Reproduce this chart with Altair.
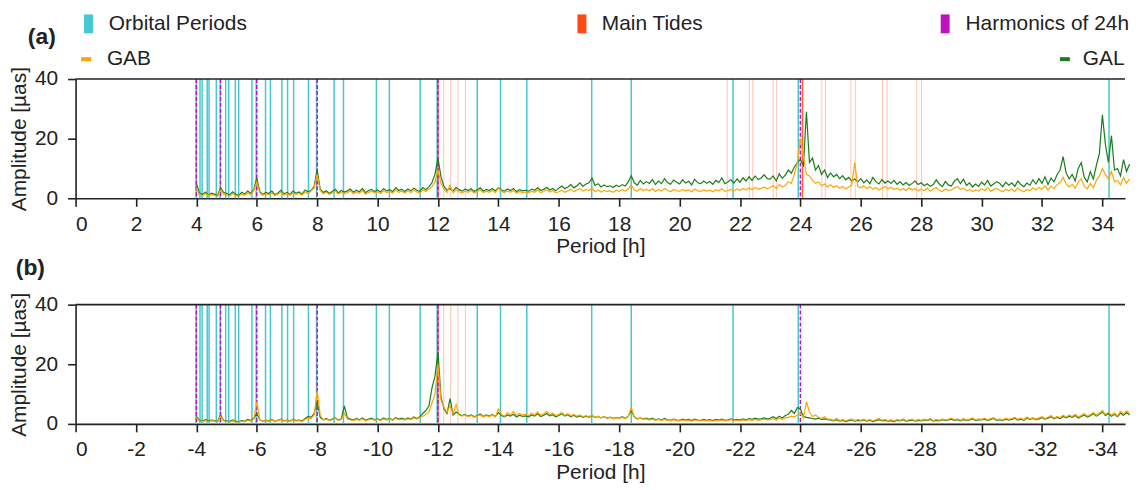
import altair as alt
import pandas as pd

FONT = "Liberation Sans"
TXT = "#222222"
START = 4.0
STEP = 0.1
XMAX = 34.75
XTICKS = list(range(0, 35, 2))

# ---------------- spectra (amplitude in µas, periods 4.0 ... 34.9 h, step 0.1 h) -------------
GAL_A = [
    5.0, 1.8, 1.3, 2.1, 1.0, 1.7, 1.4, 0.9, 3.5, 2.0,
    1.6, 1.1, 2.2, 1.3, 0.9, 2.0, 1.4, 2.4, 1.7, 2.9,
    6.8, 2.2, 1.3, 2.0, 1.6, 2.4, 1.2, 1.8, 2.7, 1.5,
    2.0, 1.3, 2.4, 1.7, 2.1, 1.4, 2.8, 2.2, 2.6, 4.0,
    9.5, 3.1, 1.9, 2.5, 1.6, 2.3, 3.0, 1.8, 2.6, 2.1,
    2.5, 3.1, 2.0, 2.7, 2.2, 3.3, 1.9, 2.6, 3.0, 2.3,
    2.8, 2.1, 3.3, 2.5, 2.9, 2.2, 3.6, 2.6, 3.0, 2.3,
    3.1, 2.5, 3.4, 2.7, 2.3, 3.6, 2.9, 3.8, 5.2, 8.0,
    13.5, 7.2, 3.9, 2.7, 3.3, 2.5, 3.6, 2.9, 2.4, 3.1,
    2.6, 3.2, 2.3, 2.9, 3.5, 2.4, 3.0, 2.6, 3.3, 2.5,
    3.6, 2.8, 2.4, 3.1, 2.6, 3.3, 2.2, 2.9, 2.5, 2.7,
    2.4, 3.1, 2.7, 3.5, 2.6, 3.0, 3.7, 2.8, 3.3, 2.5,
    3.4, 4.1, 3.2, 3.8, 4.6, 3.5, 4.2, 5.2, 4.0, 4.8,
    5.2, 6.8, 4.3, 4.9, 3.8, 4.5, 3.9, 4.2, 3.6, 4.4,
    3.9, 4.6, 4.1, 5.5, 7.6, 5.2, 4.4, 6.0, 4.8, 5.6,
    5.0, 6.3, 4.6, 5.8, 4.9, 6.6, 5.3, 4.7, 6.1, 5.4,
    4.8, 6.2, 5.1, 5.7, 4.5, 6.4, 5.2, 4.9, 5.8, 5.0,
    5.6, 4.7, 6.0, 5.3, 6.8, 4.9, 5.5, 6.2, 5.1, 6.5,
    5.4, 6.9, 5.8, 7.2, 6.0, 7.5, 6.3, 6.8, 7.9, 6.6,
    6.4, 7.5, 5.8, 8.2, 6.7, 7.8, 9.5, 8.4, 10.5, 12.0,
    13.0, 11.0, 29.0, 12.0, 13.5, 9.5, 11.0, 8.0, 9.5, 7.0,
    8.5, 7.2, 8.0, 6.6, 7.6, 6.2, 7.0, 5.8, 6.5, 5.5,
    6.6, 5.2, 6.2, 4.9, 7.0, 5.6, 4.8, 6.3, 5.1, 5.8,
    5.0, 6.0, 4.7, 5.6, 4.5, 5.3, 4.3, 5.0, 5.8, 4.6,
    5.2, 4.2, 4.9, 4.0, 4.6, 6.2, 4.8, 3.9, 5.6, 4.5,
    4.1, 5.8, 6.6, 4.9, 6.4, 4.3, 5.2, 3.8, 4.8, 4.0,
    5.4, 4.5, 6.0, 4.1, 4.8, 5.6, 5.0, 3.9, 5.4, 4.4,
    5.2, 4.0, 5.8, 4.6, 3.9, 5.1, 4.4, 6.2, 4.8, 6.6,
    5.0, 7.2, 4.6, 6.8, 5.5, 8.0, 9.5, 14.0, 8.5, 6.5,
    8.0, 5.8, 10.0, 12.0, 7.0, 5.5, 9.0, 6.5, 11.0, 15.0,
    28.0, 18.0, 12.0, 21.0, 9.5, 10.0, 7.5, 13.0, 9.0, 11.5,
]
GAB_A = [
    3.5, 1.2, 0.8, 1.5, 0.9, 1.3, 1.0, 0.7, 2.8, 1.4,
    1.1, 0.8, 1.6, 0.9, 0.7, 1.4, 1.0, 1.8, 1.2, 2.6,
    5.5, 1.8, 1.0, 1.5, 1.2, 1.8, 0.9, 1.4, 2.0, 1.1,
    1.5, 1.0, 1.8, 1.3, 1.6, 1.1, 2.1, 1.6, 2.4, 3.5,
    8.0, 2.6, 1.5, 2.0, 1.3, 1.8, 2.4, 1.4, 2.0, 1.6,
    1.9, 2.5, 1.5, 2.1, 1.7, 2.6, 1.4, 2.0, 2.4, 1.8,
    2.2, 1.6, 2.6, 1.9, 2.3, 1.7, 2.8, 2.0, 2.4, 1.8,
    2.5, 1.9, 2.7, 2.1, 1.8, 2.9, 2.3, 3.0, 3.8, 5.5,
    9.5, 5.0, 3.0, 2.0, 4.5, 1.9, 2.8, 2.2, 1.8, 2.4,
    2.0, 2.6, 1.8, 2.3, 2.8, 1.9, 2.4, 2.0, 2.7, 1.9,
    3.5, 2.4, 1.9, 2.5, 2.0, 2.7, 1.7, 2.3, 1.9, 2.1,
    1.8, 2.4, 2.0, 2.8, 1.9, 2.3, 2.9, 2.1, 2.6, 1.8,
    2.2, 2.7, 2.0, 2.5, 3.0, 2.2, 2.8, 3.2, 2.4, 2.9,
    2.6, 3.4, 2.2, 2.8, 2.1, 2.6, 2.3, 2.5, 2.0, 2.7,
    2.3, 2.9, 2.4, 3.1, 4.5, 2.8, 2.4, 3.3, 2.6, 3.0,
    2.5, 3.2, 2.3, 2.9, 2.4, 3.3, 2.7, 2.2, 3.0, 2.6,
    2.3, 3.0, 2.5, 2.8, 2.1, 3.1, 2.5, 2.3, 2.8, 2.4,
    2.7, 2.2, 2.9, 2.5, 3.2, 2.3, 2.6, 3.0, 2.4, 3.1,
    2.6, 3.3, 2.8, 3.5, 2.9, 3.6, 3.1, 3.3, 3.8, 3.2,
    3.6, 4.2, 3.3, 4.6, 3.8, 4.4, 5.5, 5.0, 8.0, 12.0,
    20.0, 14.0, 8.0, 7.5, 6.0, 5.0, 5.5, 4.2, 4.8, 3.8,
    4.5, 3.6, 4.2, 3.4, 4.0, 3.2, 3.8, 4.4, 12.0, 4.0,
    3.5, 4.2, 3.3, 3.9, 3.0, 3.6, 2.8, 3.4, 4.0, 3.1,
    3.7, 2.9, 3.4, 2.7, 3.2, 2.6, 3.5, 2.8, 3.3, 2.5,
    3.1, 2.6, 3.4, 2.4, 3.0, 3.6, 2.7, 2.3, 3.2, 2.6,
    2.8, 3.5, 3.9, 2.9, 3.4, 2.5, 3.0, 2.3, 2.8, 2.4,
    3.2, 2.6, 3.6, 2.4, 2.9, 3.3, 2.7, 2.2, 3.0, 2.5,
    3.1, 2.3, 3.4, 2.7, 2.2, 3.0, 2.5, 3.5, 2.8, 3.6,
    3.0, 4.2, 2.8, 4.0, 3.2, 4.6, 5.2, 7.0, 4.8, 3.8,
    4.6, 3.4, 5.5, 6.5, 4.0, 3.2, 5.0, 3.6, 6.0, 7.5,
    10.0, 8.0, 6.5, 9.0, 5.5, 6.0, 4.5, 7.0, 5.0, 6.5,
]
GAL_B = [
    2.5, 1.2, 0.9, 1.4, 1.0, 1.3, 1.1, 0.8, 3.0, 1.2,
    1.0, 0.8, 1.3, 0.9, 0.7, 1.2, 0.9, 1.5, 1.1, 1.8,
    3.5, 1.4, 0.9, 1.2, 1.0, 1.5, 0.8, 1.2, 1.6, 1.0,
    1.3, 0.9, 1.5, 1.1, 1.3, 1.0, 1.8, 2.5, 2.2, 3.5,
    7.5, 2.2, 1.4, 1.8, 1.2, 1.6, 2.0, 1.3, 1.7, 6.0,
    2.0, 1.6, 1.3, 1.8, 1.4, 2.0, 1.2, 1.6, 1.9, 1.4,
    1.7, 1.3, 2.0, 1.5, 1.8, 1.4, 2.1, 1.6, 1.9, 1.5,
    2.0, 1.6, 2.3, 1.8, 2.4, 3.5, 4.5, 6.0, 12.0, 16.0,
    24.0, 9.0, 5.0, 3.5, 8.5, 3.0, 4.0, 3.2, 2.8, 3.2,
    2.6, 3.0, 2.4, 2.8, 3.3, 2.5, 3.0, 2.6, 3.2, 2.5,
    3.8, 2.8, 2.4, 3.0, 2.6, 3.2, 2.3, 2.9, 2.5, 2.7,
    2.4, 3.0, 2.6, 3.4, 2.5, 2.9, 3.5, 2.7, 3.1, 2.4,
    2.8, 3.4, 2.6, 3.1, 2.4, 2.9, 2.3, 2.7, 2.2, 2.6,
    2.2, 2.8, 2.1, 2.5, 2.0, 2.4, 1.9, 2.3, 1.8, 2.2,
    1.9, 2.4, 1.8, 2.6, 4.5, 2.3, 1.7, 2.0, 1.6, 1.9,
    1.5, 1.9, 1.4, 1.7, 1.3, 1.8, 1.4, 1.2, 1.6, 1.3,
    1.2, 1.6, 1.3, 1.5, 1.1, 1.6, 1.3, 1.2, 1.5, 1.2,
    1.4, 1.1, 1.5, 1.3, 1.6, 1.2, 1.4, 1.7, 1.3, 1.5,
    1.3, 1.7, 1.4, 1.8, 1.5, 1.9, 1.6, 1.7, 2.0, 1.7,
    1.9, 2.4, 1.8, 2.6, 2.0, 2.8, 3.2, 4.5, 3.5, 5.5,
    5.0, 2.5, 2.2, 2.0, 1.8, 1.6, 1.9, 1.5, 1.7, 1.4,
    1.3, 1.0, 1.4, 0.9, 1.2, 0.8, 1.1, 1.3, 0.9, 1.2,
    1.0, 1.3, 0.9, 1.2, 0.8, 1.1, 1.4, 1.0, 1.2, 0.9,
    1.1, 0.8, 1.2, 1.0, 1.4, 0.9, 1.1, 1.3, 0.9, 1.2,
    1.0, 1.3, 1.1, 1.5, 0.9, 1.2, 1.0, 1.4, 1.1, 1.3,
    1.6, 1.2, 1.4, 1.0, 1.5, 1.1, 1.3, 1.7, 1.2, 1.4,
    1.3, 1.6, 1.1, 1.5, 1.8, 1.2, 1.4, 1.1, 1.6, 1.3,
    1.5, 1.9, 1.3, 1.6, 1.2, 2.0, 1.5, 1.8, 1.4, 1.7,
    2.1, 1.6, 1.9, 2.4, 1.7, 2.2, 1.8, 2.5, 2.0, 2.6,
    2.2, 2.8, 2.0, 2.5, 3.0, 2.3, 2.7, 3.4, 2.6, 3.2,
    4.0, 2.8, 3.5, 2.6, 3.2, 2.4, 3.6, 2.9, 3.8, 3.0,
]
GAB_B = [
    2.0, 0.9, 0.7, 1.1, 0.8, 1.0, 0.9, 0.6, 2.5, 1.0,
    0.8, 0.6, 1.0, 0.7, 0.6, 0.9, 0.7, 1.2, 0.9, 1.6,
    7.5, 1.5, 0.8, 1.1, 0.9, 1.3, 0.7, 1.1, 1.4, 0.9,
    1.1, 0.8, 1.3, 0.9, 1.1, 0.8, 1.5, 1.9, 1.8, 3.0,
    11.0, 3.0, 1.4, 1.6, 1.1, 1.4, 1.8, 1.2, 1.5, 3.5,
    1.6, 1.3, 1.1, 1.5, 1.2, 1.7, 1.0, 1.4, 1.6, 1.2,
    1.5, 1.1, 1.7, 1.3, 1.6, 1.2, 1.8, 1.4, 1.6, 1.3,
    1.7, 1.4, 2.0, 1.6, 2.1, 2.6, 3.2, 4.0, 7.0, 10.0,
    20.0, 8.0, 5.5, 4.0, 6.0, 3.5, 6.5, 3.0, 2.6, 3.0,
    2.4, 2.8, 2.2, 2.6, 3.0, 2.3, 2.8, 2.4, 3.0, 2.3,
    5.0, 3.2, 2.6, 3.8, 3.0, 4.2, 2.8, 3.5, 3.0, 3.2,
    2.8, 3.6, 3.0, 4.0, 2.9, 3.4, 4.2, 3.1, 3.6, 2.8,
    3.2, 3.8, 2.9, 3.4, 2.7, 3.2, 2.6, 3.0, 2.4, 2.8,
    2.4, 3.0, 2.2, 2.6, 2.0, 2.4, 1.9, 2.2, 1.8, 2.1,
    1.8, 2.2, 1.7, 2.5, 5.5, 2.2, 1.6, 1.9, 1.5, 1.7,
    1.3, 1.6, 1.2, 1.5, 1.1, 1.5, 1.2, 1.0, 1.4, 1.1,
    1.0, 1.3, 1.1, 1.2, 0.9, 1.3, 1.1, 1.0, 1.2, 1.0,
    1.1, 0.9, 1.2, 1.0, 1.3, 1.0, 1.1, 1.4, 1.0, 1.2,
    1.0, 1.3, 1.1, 1.4, 1.2, 1.5, 1.2, 1.3, 1.6, 1.3,
    1.4, 1.8, 1.3, 1.9, 1.5, 2.0, 2.2, 2.6, 2.3, 3.0,
    3.5, 2.0, 7.5, 4.0, 2.5, 3.0, 2.2, 1.8, 2.4, 1.6,
    1.6, 1.2, 1.8, 1.1, 1.5, 1.0, 1.4, 1.7, 1.1, 1.5,
    1.2, 1.6, 1.1, 1.5, 1.0, 1.4, 1.8, 1.2, 1.5, 1.1,
    1.4, 1.0, 1.5, 1.2, 1.7, 1.1, 1.4, 1.6, 1.1, 1.5,
    1.2, 1.6, 1.3, 1.8, 1.1, 1.5, 1.2, 1.7, 1.3, 1.6,
    1.9, 1.4, 1.7, 1.2, 1.8, 1.3, 1.6, 2.0, 1.4, 1.7,
    1.5, 1.9, 1.3, 1.8, 2.1, 1.4, 1.7, 1.3, 1.9, 1.5,
    1.8, 2.2, 1.5, 1.9, 1.4, 2.3, 1.7, 2.1, 1.6, 2.0,
    2.4, 1.8, 2.2, 2.8, 1.9, 2.5, 2.1, 2.9, 2.3, 3.0,
    2.5, 3.2, 2.3, 2.9, 3.5, 2.6, 3.1, 3.9, 2.9, 3.6,
    4.5, 3.2, 4.0, 2.9, 3.7, 2.7, 4.2, 3.3, 4.4, 3.5,
]

# ---------------- reference periods [h] -------------
ORBITAL = [3.99, 4.12, 4.19, 4.36, 4.42, 4.66, 4.79, 4.97, 5.07, 5.29, 5.40, 5.84,
           5.98, 6.29, 6.45, 6.83, 7.02, 7.22, 7.71, 7.98, 8.56, 8.87, 9.96, 10.39,
           11.41, 11.97, 13.30, 14.07, 14.94, 17.09, 18.40, 21.77, 23.93, 34.22]
TIDES_MAJOR_A = [12.00, 24.07]
TIDES_MINOR_A = [12.19, 12.42, 12.66, 12.91, 21.58, 22.31, 22.42, 23.10, 23.21,
                 24.71, 24.83, 25.67, 25.82, 26.72, 26.87, 27.85, 28.01]
TIDES_MAJOR_B = [12.00]
TIDES_MINOR_B = [12.19, 12.42, 12.66, 12.91]
HARMONICS = [4.0, 4.8, 6.0, 8.0, 12.0, 24.0]

C_ORB = "#45c8cf"
C_TIDE = "#ff4a14"
C_HARM = "#c010c0"
C_GAB = "#ffa500"
C_GAL = "#1c7c1c"

ONE = pd.DataFrame({"k": [0]})


def xenc(neg):
    expr = "datum.value == 0 ? '0' : '-' + datum.label" if neg else "datum.label"
    return alt.X("period:Q",
                 scale=alt.Scale(domain=[0, XMAX], nice=False, zero=False),
                 axis=alt.Axis(values=XTICKS, labelExpr=expr, title="Period [h]",
                               titlePadding=2, labelPadding=7))


YSCALE = alt.Scale(domain=[0, 40], nice=False)
YAXIS = alt.Axis(values=[0, 20, 40], title="Amplitude [µas]", titlePadding=5,
                 labelPadding=10)


def rules(values, color, width=1.5, opacity=1.0, dash=None, neg=False):
    df = pd.DataFrame({"period": values})
    kw = dict(color=color, strokeWidth=width, opacity=opacity)
    if dash:
        kw["strokeDash"] = dash
    return alt.Chart(df).mark_rule(**kw).encode(x=xenc(neg))


def text(t, x, y, size=21, bold=False, align="left"):
    return alt.Chart(ONE).mark_text(text=t, align=align, baseline="middle", font=FONT,
                                    fontSize=size, fontWeight="bold" if bold else "normal",
                                    color=TXT).encode(x=alt.value(x), y=alt.value(y))


def box(color, x1, x2, y1, y2):
    return alt.Chart(ONE).mark_rect(color=color).encode(
        x=alt.value(x1), x2=alt.value(x2), y=alt.value(y1), y2=alt.value(y2))


def panel(gal, gab, tmaj, tmin, neg, extra):
    periods = [round(START + STEP * i, 1) for i in range(len(gal))]
    df = pd.DataFrame({"period": periods, "GAL": gal, "GAB": gab})
    base = alt.Chart(df)
    gal_line = base.mark_line(color=C_GAL, strokeWidth=1.2).encode(
        x=xenc(neg), y=alt.Y("GAL:Q", scale=YSCALE, axis=YAXIS))
    gab_line = base.mark_line(color=C_GAB, strokeWidth=1.2).encode(
        x=xenc(neg), y=alt.Y("GAB:Q", scale=YSCALE, axis=YAXIS))
    top = alt.Chart(ONE).mark_rule(color=TXT, strokeWidth=1.6).encode(
        y=alt.datum(40))
    layers = [
        rules(tmin, C_TIDE, width=1.2, opacity=0.28, neg=neg),
        rules(ORBITAL, C_ORB, width=1.5, neg=neg),
        rules(tmaj, C_TIDE, width=1.5, opacity=0.85, neg=neg),
        rules(HARMONICS, C_HARM, width=1.5, dash=[4, 2], neg=neg),
        gal_line, gab_line, top,
    ] + extra
    return alt.layer(*layers).properties(width=1056, height=120)


legend_a = [
    text("(a)", -34, -42, size=23, bold=True, align="center"),
    box(C_ORB, 8.5, 17.5, -65, -46),
    text("Orbital Periods", 33.5, -55),
    box(C_TIDE, 505, 514, -65, -46),
    text("Main Tides", 529.5, -55),
    box(C_HARM, 870.5, 879.5, -65, -46),
    text("Harmonics of 24h", 895.5, -55),
    box(C_GAB, 5.5, 15.5, -22, -18),
    text("GAB", 31.5, -20),
    box(C_GAL, 990.5, 1000.5, -22, -18),
    text("GAL", 1013.5, -20),
]
legend_b = [text("(b)", -45.5, -37, size=23, bold=True, align="center")]

pa = panel(GAL_A, GAB_A, TIDES_MAJOR_A, TIDES_MINOR_A, False, legend_a)
pb = panel(GAL_B, GAB_B, TIDES_MAJOR_B, TIDES_MINOR_B, True, legend_b)

chart = alt.vconcat(pa, pb, spacing=0).properties(
    padding={"left": 0, "top": 4, "right": 0, "bottom": 0}
).configure_view(stroke=None).configure_axis(
    grid=False, domainColor=TXT, domainWidth=1.6, tickColor=TXT, tickWidth=1.6,
    tickSize=8, labelFont=FONT, labelFontSize=21, labelColor=TXT,
    titleFont=FONT, titleFontSize=21, titleFontWeight="normal", titleColor=TXT,
)

chart.save("out.html", embed_options={"renderer": "svg", "actions": False})
